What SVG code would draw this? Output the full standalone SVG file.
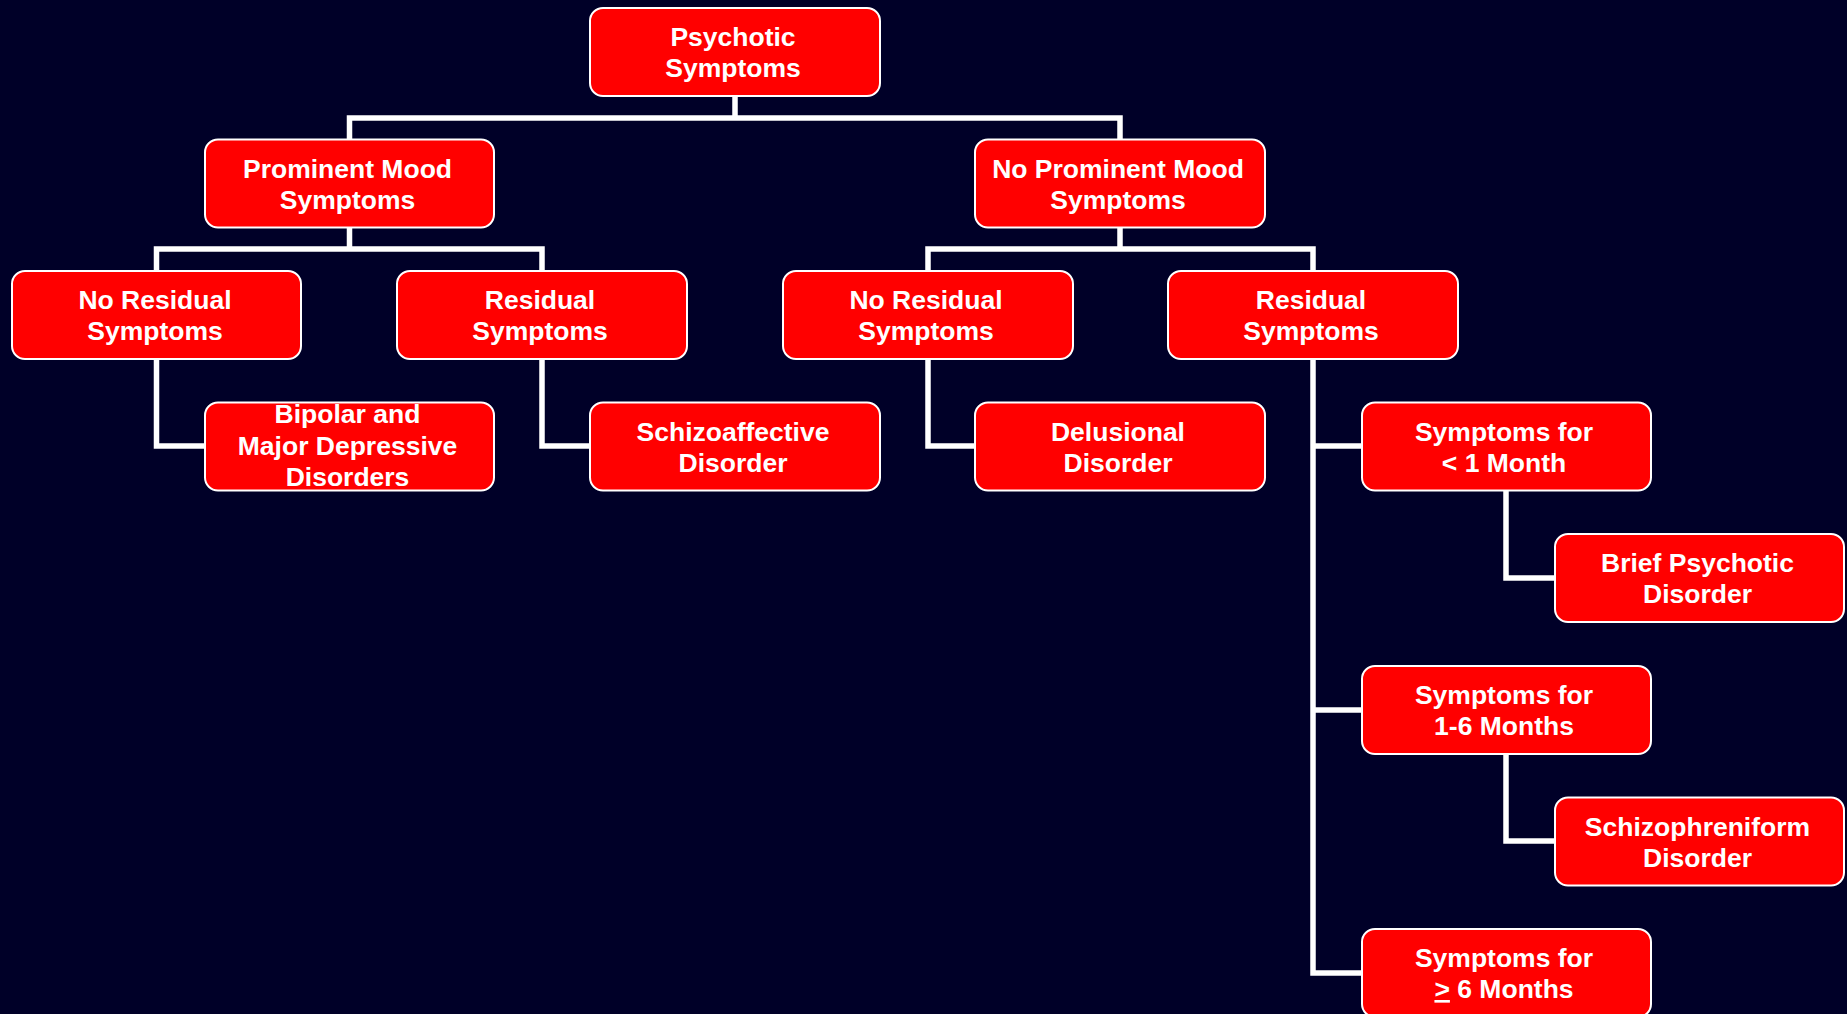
<svg xmlns="http://www.w3.org/2000/svg" width="1847" height="1014" viewBox="0 0 1847 1014">
<style>
.bg{fill:#000028}
.box{fill:#FF0000;stroke:#FFFFFF;stroke-width:2}
.lbl{font-family:"Liberation Sans",Arial,sans-serif;font-weight:bold;font-size:26.5px;fill:#FFFFFF;text-anchor:middle}
.con{fill:none;stroke:#FFFFFF;stroke-width:5.5;stroke-linejoin:miter;stroke-linecap:butt}
</style>
<rect class="bg" x="0" y="0" width="1847" height="1014"/>
<g id="connectors">
<path class="con" d="M735,96 V118 M349.5,139 V118 H1120 V139"/>
<path class="con" d="M349.5,227 V249 M156.5,271 V249 H542 V271"/>
<path class="con" d="M1120,227 V249 M928,271 V249 H1313 V271"/>
<path class="con" d="M156.5,359 V446 H205"/>
<path class="con" d="M542,359 V446 H590"/>
<path class="con" d="M928,359 V446 H975"/>
<path class="con" d="M1313,359 V973 H1362 M1313,446 H1362 M1313,710 H1362"/>
<path class="con" d="M1506,490 V578 H1555"/>
<path class="con" d="M1506,753 V841 H1555"/>
</g>
<g id="n-psychotic"><rect class="box" x="590" y="8" width="290" height="88" rx="13"/><text class="lbl" x="733" y="46">Psychotic</text><text class="lbl" x="733" y="77">Symptoms</text></g>
<g id="n-prominent"><rect class="box" x="205" y="139.5" width="289" height="88" rx="13"/><text class="lbl" x="347.5" y="177.5">Prominent Mood</text><text class="lbl" x="347.5" y="208.5">Symptoms</text></g>
<g id="n-noprominent"><rect class="box" x="975" y="139.5" width="290" height="88" rx="13"/><text class="lbl" x="1118" y="177.5">No Prominent Mood</text><text class="lbl" x="1118" y="208.5">Symptoms</text></g>
<g id="n-noresidual1"><rect class="box" x="12" y="271" width="289" height="88" rx="13"/><text class="lbl" x="155" y="309">No Residual</text><text class="lbl" x="155" y="340">Symptoms</text></g>
<g id="n-residual1"><rect class="box" x="397" y="271" width="290" height="88" rx="13"/><text class="lbl" x="540" y="309">Residual</text><text class="lbl" x="540" y="340">Symptoms</text></g>
<g id="n-noresidual2"><rect class="box" x="783" y="271" width="290" height="88" rx="13"/><text class="lbl" x="926" y="309">No Residual</text><text class="lbl" x="926" y="340">Symptoms</text></g>
<g id="n-residual2"><rect class="box" x="1168" y="271" width="290" height="88" rx="13"/><text class="lbl" x="1311" y="309">Residual</text><text class="lbl" x="1311" y="340">Symptoms</text></g>
<g id="n-bipolar"><rect class="box" x="205" y="402.5" width="289" height="88" rx="13"/><text class="lbl" x="347.5" y="423">Bipolar and</text><text class="lbl" x="347.5" y="454.5">Major Depressive</text><text class="lbl" x="347.5" y="486">Disorders</text></g>
<g id="n-schizoaffective"><rect class="box" x="590" y="402.5" width="290" height="88" rx="13"/><text class="lbl" x="733" y="440.5">Schizoaffective</text><text class="lbl" x="733" y="471.5">Disorder</text></g>
<g id="n-delusional"><rect class="box" x="975" y="402.5" width="290" height="88" rx="13"/><text class="lbl" x="1118" y="440.5">Delusional</text><text class="lbl" x="1118" y="471.5">Disorder</text></g>
<g id="n-lt1"><rect class="box" x="1362" y="402.5" width="289" height="88" rx="13"/><text class="lbl" x="1504" y="440.5">Symptoms for</text><text class="lbl" x="1504" y="471.5">&lt; 1 Month</text></g>
<g id="n-brief"><rect class="box" x="1555" y="534" width="289" height="88" rx="13"/><text class="lbl" x="1697.5" y="572">Brief Psychotic</text><text class="lbl" x="1697.5" y="603">Disorder</text></g>
<g id="n-1to6"><rect class="box" x="1362" y="666" width="289" height="88" rx="13"/><text class="lbl" x="1504" y="704">Symptoms for</text><text class="lbl" x="1504" y="735">1-6 Months</text></g>
<g id="n-schizophreniform"><rect class="box" x="1555" y="797.5" width="289" height="88" rx="13"/><text class="lbl" x="1697.5" y="835.5">Schizophreniform</text><text class="lbl" x="1697.5" y="866.5">Disorder</text></g>
<g id="n-ge6"><rect class="box" x="1362" y="929" width="289" height="88" rx="13"/><text class="lbl" x="1504" y="967">Symptoms for</text><text class="lbl" x="1504" y="998"><tspan text-decoration="underline">&gt;</tspan> 6 Months</text></g>
</svg>
